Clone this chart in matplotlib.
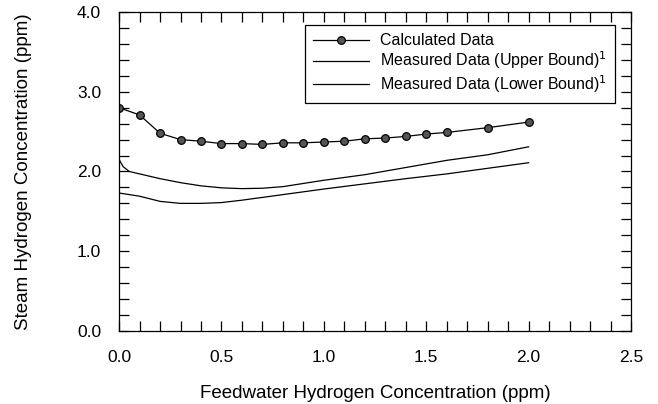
import matplotlib
matplotlib.use("Agg")
import matplotlib.pyplot as plt
from matplotlib.ticker import MultipleLocator, FormatStrFormatter

plt.rcParams['font.family'] = ['Liberation Sans', 'DejaVu Sans']

# calculated data (points)
calc_x = [0.0, 0.1, 0.2, 0.3, 0.4, 0.5, 0.6, 0.7, 0.8, 0.9, 1.0,
          1.1, 1.2, 1.3, 1.4, 1.5, 1.6, 1.8, 2.0]
calc_y = [2.80, 2.71, 2.48, 2.40, 2.38, 2.35, 2.35, 2.34, 2.36, 2.36, 2.37,
          2.38, 2.41, 2.42, 2.44, 2.47, 2.49, 2.55, 2.62]

# measured upper bound
upper_x = [0.0, 0.02, 0.05, 0.1, 0.2, 0.3, 0.4, 0.5, 0.6, 0.7, 0.8, 0.9,
           1.0, 1.2, 1.4, 1.6, 1.8, 2.0]
upper_y = [2.15, 2.06, 2.00, 1.97, 1.91, 1.86, 1.82, 1.795, 1.785, 1.79, 1.81, 1.85,
           1.89, 1.96, 2.05, 2.14, 2.21, 2.31]

# measured lower bound
lower_x = [0.0, 0.1, 0.2, 0.3, 0.4, 0.5, 0.6, 0.7, 0.8, 1.0, 1.2, 1.4,
           1.6, 1.8, 2.0]
lower_y = [1.73, 1.69, 1.625, 1.60, 1.60, 1.61, 1.64, 1.675, 1.71, 1.78, 1.845, 1.91,
           1.97, 2.04, 2.11]

fig = plt.figure(figsize=(6.58, 4.04), dpi=100)
ax = fig.add_axes([0.181, 0.181, 0.778, 0.789])

ax.plot(calc_x, calc_y, color='black', lw=0.9, marker='o', markersize=5.5,
        markerfacecolor='#555555', markeredgecolor='black', markeredgewidth=0.9,
        label='Calculated Data')
ax.plot(upper_x, upper_y, color='black', lw=0.9,
        label='Measured Data (Upper Bound)$^{1}$')
ax.plot(lower_x, lower_y, color='black', lw=0.9,
        label='Measured Data (Lower Bound)$^{1}$')

ax.set_xlim(0, 2.5)
ax.set_ylim(0, 4.0)
ax.xaxis.set_major_locator(MultipleLocator(0.5))
ax.xaxis.set_minor_locator(MultipleLocator(0.1))
ax.yaxis.set_major_locator(MultipleLocator(1.0))
ax.yaxis.set_minor_locator(MultipleLocator(0.2))
ax.xaxis.set_major_formatter(FormatStrFormatter('%.1f'))
ax.yaxis.set_major_formatter(FormatStrFormatter('%.1f'))
ax.tick_params(which='both', direction='in', top=True, right=True,
               length=7, width=0.9, labelsize=12.5)
ax.tick_params(axis='x', which='major', pad=14)
ax.tick_params(axis='y', which='major', pad=13)
for s in ax.spines.values():
    s.set_linewidth(0.9)

ax.set_xlabel('Feedwater Hydrogen Concentration (ppm)', fontsize=13.5, labelpad=14)
ax.set_ylabel('Steam Hydrogen Concentration (ppm)', fontsize=13.5, labelpad=32)

leg = ax.legend(loc='upper right', bbox_to_anchor=(0.969, 0.959), borderaxespad=0,
                fontsize=11.5, fancybox=False, edgecolor='black', framealpha=1,
                handlelength=3.5, handletextpad=0.7, borderpad=0.5,
                labelspacing=0.1)
leg.get_frame().set_linewidth(0.9)

fig.savefig('out.png', dpi=100)
